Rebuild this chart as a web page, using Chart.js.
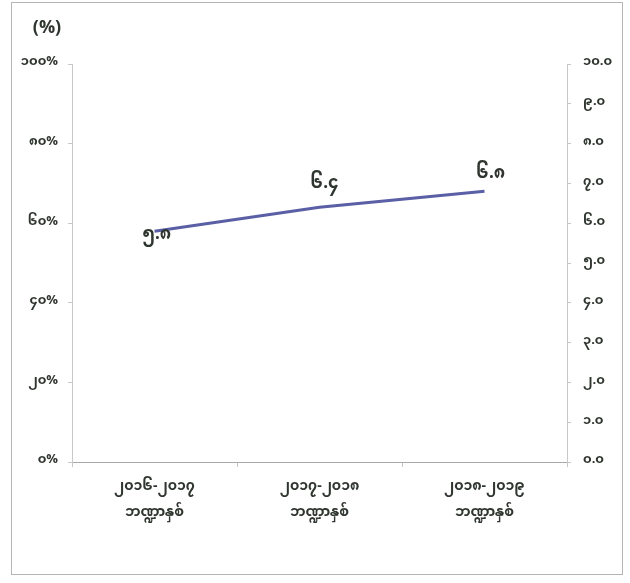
<!DOCTYPE html>
<html>
<head>
<meta charset="utf-8">
<script src="https://cdn.jsdelivr.net/npm/chart.js@4.4.1/dist/chart.umd.min.js"></script>
<style>
  html, body { margin: 0; padding: 0; background: #fff; }
  #wrap { width: 630px; height: 583px; position: relative; }
</style>
</head>
<body>
<div id="wrap"><canvas id="rate-chart" width="630" height="583"></canvas></div>
<script>
// data
const categories = [
  ['၂၀၁၆-၂၀၁၇', 'ဘဏ္ဍာနှစ်'],
  ['၂၀၁၇-၂၀၁၈', 'ဘဏ္ဍာနှစ်'],
  ['၂၀၁၈-၂၀၁၉', 'ဘဏ္ဍာနှစ်'],
];
const rateValues = [5.8, 6.4, 6.8];
const rateLabels = ['၅.၈', '၆.၄', '၆.၈'];
const leftTicks = ['၀%', '၂၀%', '၄၀%', '၆၀%', '၈၀%', '၁၀၀%'];
const rightTicks = ['၀.၀', '၁.၀', '၂.၀', '၃.၀', '၄.၀', '၅.၀', '၆.၀', '၇.၀', '၈.၀', '၉.၀', '၁၀.၀'];

const FONT = "'Noto Sans Myanmar', 'Padauk', 'Myanmar Text', 'DejaVu Sans', sans-serif";
const textColor = '#2f352f';

const frameAndTitle = {
  id: 'frameAndTitle',
  afterDraw: (chart) => {
    var ctx = chart.ctx;
    ctx.save();
    ctx.strokeStyle = '#b5b5b5';
    ctx.lineWidth = 1;
    ctx.strokeRect(11.5, 2.5, 611, 572);
    ctx.font = 'bold 18px ' + FONT;
    ctx.fillStyle = textColor;
    ctx.textAlign = 'center';
    ctx.textBaseline = 'middle';
    ctx.fillText('(%)', 47, 31);
    ctx.restore();
  }
};

// label offsets from each point, as seen in the picture
const labelShift = [[2, 6], [5, -21], [6, -15]];

const pointText = {
  id: 'pointText',
  afterDatasetsDraw: (chart) => {
    var ctx = chart.ctx;
    var meta = chart.getDatasetMeta(0);
    ctx.save();
    ctx.font = 'bold 17px ' + FONT;
    ctx.fillStyle = textColor;
    ctx.textAlign = 'center';
    ctx.textBaseline = 'middle';
    meta.data.forEach((pt, i) => {
      ctx.fillText(rateLabels[i], pt.x + labelShift[i][0], pt.y + labelShift[i][1]);
    });
    ctx.restore();
  }
};

window.addEventListener('load', () => {
  const ctx = document.getElementById('rate-chart').getContext('2d');

  var config = {
    type: 'line',
    data: {
      labels: categories,
      datasets: [{
        data: rateValues,
        yAxisID: 'y1',
        borderColor: '#5a5fa6',
        borderWidth: 3,
        pointRadius: 0,
        tension: 0,
      }],
    },
    options: {
      responsive: false,
      animation: false,
      layout: { padding: { top: 64, left: 0, right: 0, bottom: 0 } },
      plugins: {
        legend: { display: false },
        tooltip: { enabled: false },
      },
      scales: {
        x: {
          offset: true,
          grid: { display: true, drawOnChartArea: false, offset: true, tickLength: 5, color: '#c8c8c8' },
          border: { color: '#a8a8a8' },
          ticks: { color: textColor, font: { family: FONT, size: 14, weight: 'bold', lineHeight: 1.9 }, padding: 8, maxRotation: 0 },
          afterFit: (scale) => { scale.height = 121; },
        },
        y: {
          position: 'left',
          min: 0, max: 100,
          ticks: {
            stepSize: 20, color: textColor, padding: 10,
            font: { family: FONT, size: 13, weight: 'bold' },
            callback: (v, i) => leftTicks[i],
          },
          grid: { drawOnChartArea: false, tickLength: 4, color: '#c8c8c8' },
          border: { color: '#c8c8c8' },
          afterFit: (scale) => { scale.width = 72; },
        },
        y1: {
          position: 'right',
          min: 0, max: 10,
          ticks: {
            stepSize: 1, color: textColor, padding: 12,
            font: { family: FONT, size: 13, weight: 'bold' },
            callback: (v, i) => rightTicks[i],
          },
          grid: { drawOnChartArea: false, tickLength: 4, color: '#c8c8c8' },
          border: { color: '#c8c8c8' },
          afterFit: (scale) => { scale.width = 63; },
        },
      },
    },
    plugins: [frameAndTitle, pointText],
  };

  window.rateChart = new Chart(ctx, config);
});
</script>
</body>
</html>
